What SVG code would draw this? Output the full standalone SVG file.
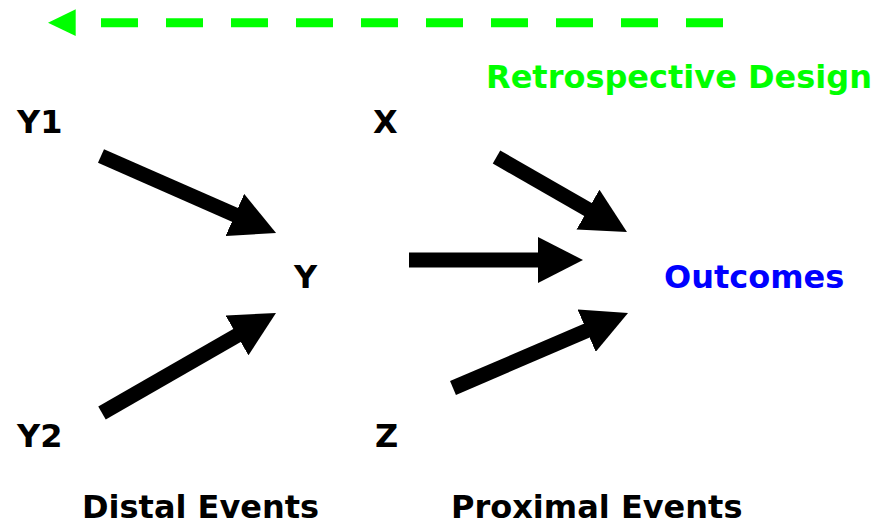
<svg xmlns="http://www.w3.org/2000/svg" width="874" height="526" viewBox="0 0 874 526">
  <defs>
    <style>
      .lbl { font-family: "DejaVu Sans", Verdana, sans-serif; font-weight: bold; font-size: 32px; fill: #000000; }
      .out { fill: #0000FF; }
      .retro { fill: #00FF00; font-size: 32px; }
      .arr { stroke: #000000; stroke-width: 15; stroke-linecap: butt; fill: none; marker-end: url(#head); }
      .dash { stroke: #00FF00; stroke-width: 9; stroke-dasharray: 37 28; fill: none; }
    </style>
    <marker id="head" viewBox="0 0 45 46" markerWidth="45" markerHeight="46" refX="2" refY="23" orient="auto" markerUnits="userSpaceOnUse">
      <path d="M0,0 L45,23 L0,46 Z" fill="#000000"/>
    </marker>
  </defs>
  <rect width="874" height="526" fill="#FFFFFF"/>
  <g id="connectors">
    <line class="dash" x1="723" y1="22.7" x2="101" y2="22.7"/>
    <polygon points="48,22.7 75.7,9.3 75.7,36" fill="#00FF00"/>
    <line class="arr" x1="101" y1="156" x2="236.7" y2="215.7"/>
    <line class="arr" x1="102" y1="413" x2="238.7" y2="334.4"/>
    <line class="arr" x1="409" y1="260" x2="540" y2="260"/>
    <line class="arr" x1="496.5" y1="157" x2="589.7" y2="210.6"/>
    <line class="arr" x1="453" y1="388" x2="588.5" y2="329.9"/>
  </g>
  <g id="retro"><text class="lbl retro" x="486" y="88">Retrospective Design</text></g>
  <g id="Y1"><text class="lbl" x="17" y="133">Y1</text></g>
  <g id="X"><text class="lbl" x="373" y="133">X</text></g>
  <g id="Y"><text class="lbl" x="294" y="288">Y</text></g>
  <g id="Outcomes"><text class="lbl out" x="664" y="288">Outcomes</text></g>
  <g id="Y2"><text class="lbl" x="17" y="447">Y2</text></g>
  <g id="Z"><text class="lbl" x="375" y="447">Z</text></g>
  <g id="distal"><text class="lbl" x="82" y="518">Distal Events</text></g>
  <g id="proximal"><text class="lbl" x="451" y="518">Proximal Events</text></g>
</svg>
